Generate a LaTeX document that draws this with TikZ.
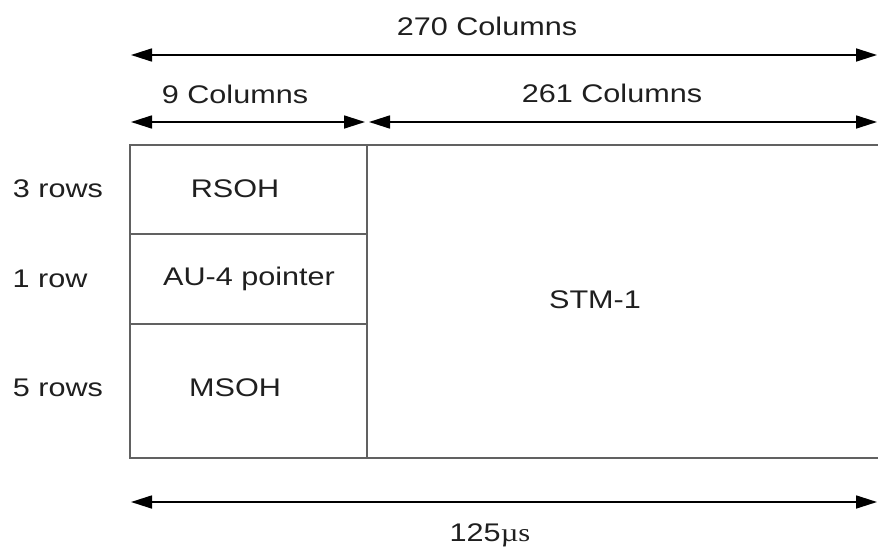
\documentclass[tikz,border=0pt]{standalone}
\usepackage{fontspec}
\setmainfont[FakeStretch=1.2]{Liberation Sans}
\newfontfamily\serifmu[FakeStretch=1.2]{Liberation Serif}
\usetikzlibrary{arrows.meta}
\begin{document}
\begin{tikzpicture}[x=1pt,y=-1pt,
  every node/.style={font=\fontsize{25.5}{30}\selectfont, text=black!88, inner sep=0pt},
  boxline/.style={draw=black!62, line width=2.4pt},
  dimarrow/.style={line width=1.7pt, {Triangle[length=21pt,width=13pt]}-{Triangle[length=21pt,width=13pt]}}]
\useasboundingbox (0,0) rectangle (878,554);
% frame
\coordinate (tl) at (130,145);
\coordinate (bl) at (130,458);
\coordinate (tm) at (367,145);
\coordinate (bm) at (367,458);
\coordinate (tr) at (878,145);
\coordinate (br) at (878,458);
\coordinate (r1l) at (130,234);
\coordinate (r1r) at (367,234);
\coordinate (r2l) at (130,324);
\coordinate (r2r) at (367,324);
\draw[boxline] (tr) -- (tl) -- (bl) -- (br);
\draw[boxline] (tm) -- (bm);
\draw[boxline] (r1l) -- (r1r);
\draw[boxline] (r2l) -- (r2r);
% cell labels
\node (rsoh) at (235,189) {RSOH};
\node (au4) at (249,279) {AU-4 pointer};
\node (msoh) at (235,388) {MSOH};
\node (stm) at (595,300) {STM-1};
% row labels
\node (r3) at (58,189) {3 rows};
\node (r1) at (50,279) {1 row};
\node (r5) at (58,388) {5 rows};
% dimension arrows
\coordinate (a270l) at (131,55);
\coordinate (a270r) at (877,55);
\coordinate (a9l) at (131,122);
\coordinate (a9r) at (365,122);
\coordinate (a261l) at (369,122);
\coordinate (a261r) at (877,122);
\coordinate (atl) at (131,502);
\coordinate (atr) at (877,502);
\draw[dimarrow] (a270l) -- (a270r);
\draw[dimarrow] (a9l) -- (a9r);
\draw[dimarrow] (a261l) -- (a261r);
\draw[dimarrow] (atl) -- (atr);
\node (l270) at (487,26) {270 Columns};
\node (l9) at (235,94) {9 Columns};
\node (l261) at (612,93) {261 Columns};
\node (ltime) at (490,535) {125{\serifmu µs}};
\end{tikzpicture}
\end{document}
